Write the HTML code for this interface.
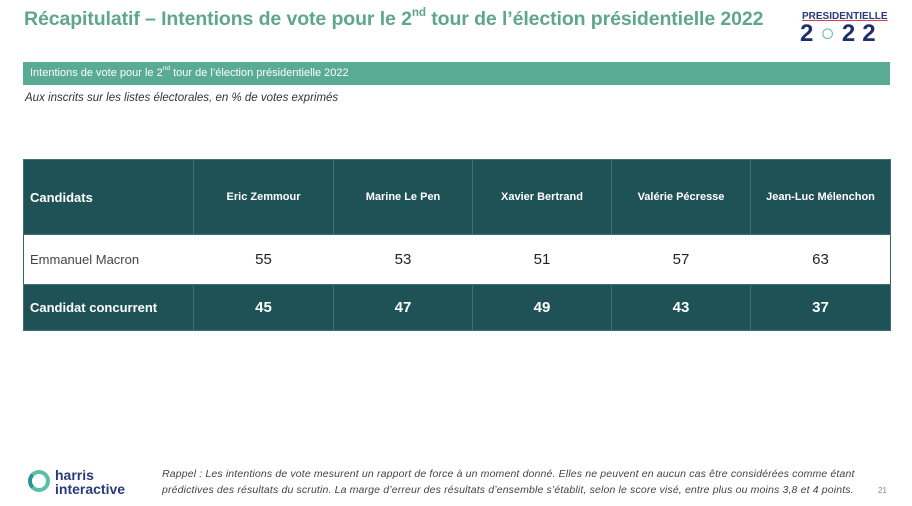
<!DOCTYPE html>
<html><head><meta charset="utf-8"><style>
body{margin:0;width:912px;height:506px;background:#fff;font-family:"Liberation Sans",sans-serif;position:relative;overflow:hidden}
.a{position:absolute}
h1{position:absolute;left:24px;top:8px;margin:0;font-size:19.5px;font-weight:bold;color:#5fa68f;white-space:nowrap;letter-spacing:-0.1px}
sup{font-size:0.6em;vertical-align:top;position:relative;top:-2px}
table{position:absolute;left:23px;top:159px;border-collapse:collapse;width:867px;table-layout:fixed}
td{border:1px solid #3d7275;text-align:center;padding:0}
.h td{background:#1f5257;color:#fff;font-weight:bold;font-size:11px;height:74px}
.w td{background:#fff;color:#222;font-size:15px;height:49px;border-left-color:#fff;border-right-color:#fff}
.w td:first-child{border-left-color:#2f6569}.w td:last-child{border-right-color:#2f6569}
.d td{background:#1f5257;color:#fff;font-weight:bold;font-size:15px;height:45px}
td.f{text-align:left;padding-left:6px}
</style></head><body>
<h1>Récapitulatif – Intentions de vote pour le 2<sup>nd</sup> tour de l’élection présidentielle 2022</h1>
<div class="a" style="left:802px;top:11px;font-size:10px;font-weight:bold;color:#2a3a7c;text-decoration:underline;text-decoration-color:#d04050">PRESIDENTIELLE</div>
<div class="a" style="left:800px;top:20px;font-size:24px;font-weight:bold;color:#1f2f6e;letter-spacing:7px">2<span style="color:#5fb8a8">○</span>22</div>
<div class="a" style="left:23px;top:62px;width:867px;height:23px;background:#5aab94"></div>
<div class="a" style="left:30px;top:67px;font-size:11px;color:#fff">Intentions de vote pour le 2<sup>nd</sup> tour de l’élection présidentielle 2022</div>
<div class="a" style="left:25px;top:92px;font-size:11.5px;font-style:italic;color:#333">Aux inscrits sur les listes électorales, en % de votes exprimés</div>
<table>
<colgroup><col style="width:170px"><col style="width:140px"><col style="width:139px"><col style="width:139px"><col style="width:139px"><col style="width:140px"></colgroup>
<tr class="h"><td class="f" style="font-size:13px">Candidats</td><td>Eric Zemmour</td><td>Marine Le Pen</td><td>Xavier Bertrand</td><td>Valérie Pécresse</td><td>Jean-Luc Mélenchon</td></tr>
<tr class="w"><td class="f" style="font-size:13px;color:#444">Emmanuel Macron</td><td>55</td><td>53</td><td>51</td><td>57</td><td>63</td></tr>
<tr class="d"><td class="f" style="font-size:13px">Candidat concurrent</td><td>45</td><td>47</td><td>49</td><td>43</td><td>37</td></tr>
</table>
<div class="a" style="left:28px;top:470px;width:14px;height:14px;border:4px solid #5bbfa6;border-radius:50%;border-left-color:#2f8f9a"></div>
<div class="a" style="left:55px;top:468px;font-size:14px;font-weight:bold;color:#2a3a7c;line-height:14px">harris<br>interactive</div>
<div class="a" style="left:162px;top:466px;font-size:10.5px;font-style:italic;color:#444;line-height:16px;letter-spacing:0.15px;white-space:nowrap">Rappel : Les intentions de vote mesurent un rapport de force à un moment donné. Elles ne peuvent en aucun cas être considérées comme étant<br>prédictives des résultats du scrutin. La marge d’erreur des résultats d’ensemble s’établit, selon le score visé, entre plus ou moins 3,8 et 4 points.</div>
<div class="a" style="left:878px;top:486px;font-size:8px;color:#888">21</div>
</body></html>
